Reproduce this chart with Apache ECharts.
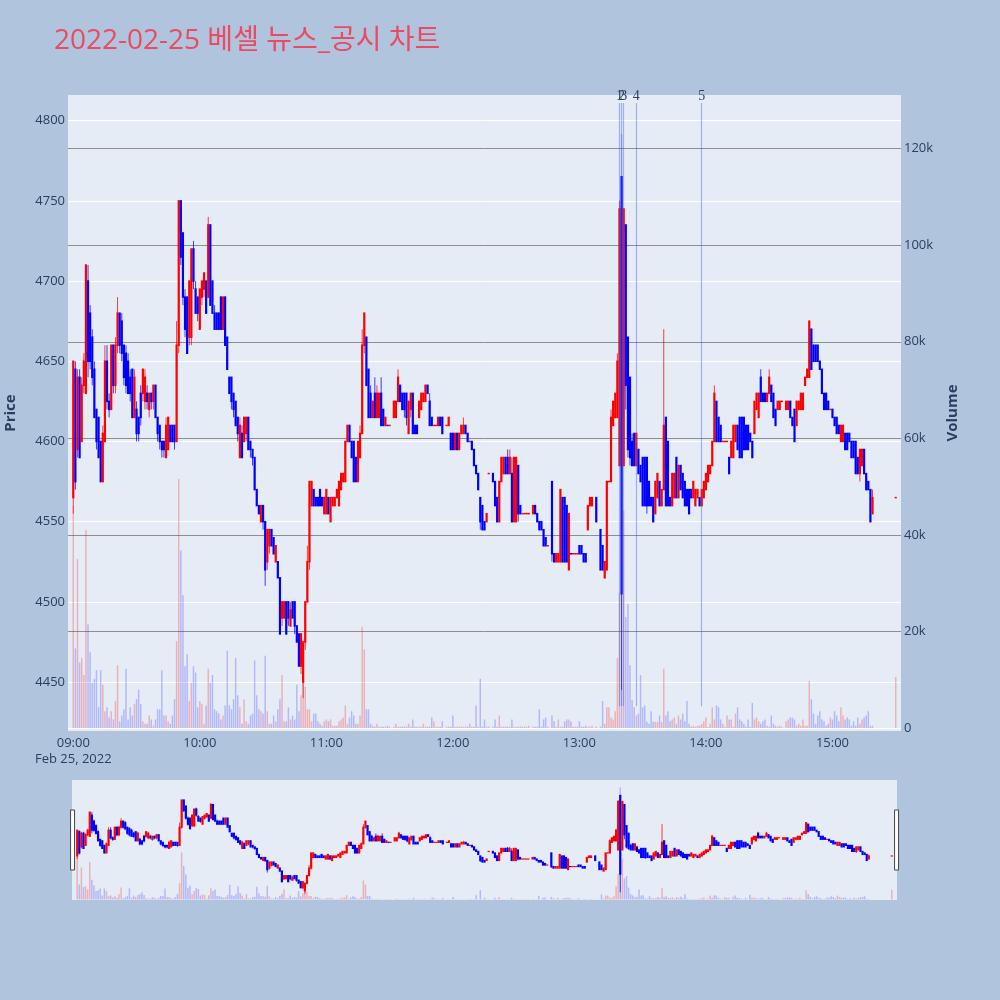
<!DOCTYPE html>
<html><head><meta charset="utf-8">
<script src="https://cdn.jsdelivr.net/npm/echarts@6/dist/echarts.min.js"></script>
<style>html,body{margin:0;padding:0;background:#B0C4DE;}#c{width:1000px;height:1000px;}</style>
</head><body><div id="c"></div>
<script>
// minute index 0 = 09:00 ... 390 = 15:30 (closing auction)
const sessionStartMin = 9 * 60;
const opens = [
4565,4645,4595,4640,4600,4635,4630,4700,4680,4665,
4645,4620,4615,4600,4575,4600,4650,4625,4620,4660,
4635,4660,4680,4675,4660,4655,4650,4640,4645,4615,
4620,4615,4630,4630,4625,4630,4620,4630,4625,4635,
4615,4610,4600,4600,4590,4595,4610,4610,4610,4600,
4660,4750,4730,4690,4690,4665,4665,4720,4695,4690,
4670,4690,4695,4700,4690,4735,4700,4680,4680,4680,
4690,4670,4690,4665,4640,4640,4630,4625,4615,4590,
4605,4600,4605,4615,4600,4595,4590,4570,4560,4550,
4560,4550,4525,4535,4545,4540,4525,4525,4515,4490,
4490,4500,4500,4485,4500,4500,4485,4480,4460,4450,
4475,4500,4525,4560,4570,4565,4565,4570,4565,4555,
4555,4565,4550,4560,4560,4565,4560,4570,4575,4575,
4600,4610,4600,4600,4590,4575,4590,4605,4660,4665,
4645,4630,4615,4630,4615,4615,4630,4620,4610,4610,
4610,null,4615,4615,4625,4635,4630,4630,4630,4605,
4620,4630,4610,4610,4615,4620,4625,4625,4635,4625,
4615,4610,4610,4610,4615,4615,null,4610,4610,4605,
4605,4595,4605,4595,4605,4605,4610,4605,4600,4600,
4595,4585,4580,4565,4560,4550,4550,4580,null,4580,
4575,4565,4550,4575,4580,4590,4590,4580,4580,4550,
4550,4585,4560,4555,4555,4555,4555,null,4555,4560,
4555,4550,4550,4545,4540,4535,null,4575,4530,4525,
4525,4525,4565,4565,4560,4520,4530,4530,4530,4530,
4535,4535,4530,4530,4545,4560,4560,null,4565,null,
4545,4535,4515,4520,4575,4575,4610,4615,4615,4585,
4765,4585,4735,4665,4640,4600,4605,4585,4595,4585,
4590,4590,4590,4575,4565,4565,4555,4565,4575,4560,
4570,4615,4600,4565,4560,4565,4590,4565,4585,4580,
4575,4570,4570,4570,4565,4560,4565,4565,4560,4565,
4570,4575,4580,4585,4600,4625,4615,4610,4600,4600,
4600,4590,4590,4590,4600,4610,4615,4615,4615,4610,
4610,4605,4600,4605,4620,4615,4640,4630,4630,4625,
4630,4635,4630,4620,4620,4620,4625,null,4620,4620,
4625,4615,4620,4610,4620,4620,4620,4635,4640,4640,
4670,4660,4660,4660,4650,4645,4630,4630,4625,4620,
4620,4615,4615,4610,4600,4600,4605,4605,4605,4600,
4600,4600,4590,4580,4585,4595,4580,4575,4570,4555,
null,null,null,null,null,null,null,null,null,null,
4565];
const closes = [
4650,4575,4640,4590,4635,4650,4710,4650,4650,4640,
4615,4600,4590,4575,4605,4650,4625,4620,4660,4635,
4660,4680,4660,4655,4640,4635,4630,4630,4615,4640,
4605,4605,4615,4645,4640,4625,4630,4625,4635,4615,
4605,4600,4595,4595,4610,4615,4600,4600,4600,4660,
4750,4715,4690,4670,4655,4700,4720,4700,4680,4680,
4695,4700,4705,4680,4735,4685,4680,4670,4670,4670,
4670,4690,4660,4645,4630,4625,4620,4610,4605,4610,
4590,4615,4615,4595,4595,4590,4570,4560,4555,4560,
4550,4520,4545,4545,4535,4530,4535,4515,4480,4500,
4500,4480,4490,4495,4490,4485,4475,4460,4480,4475,
4500,4525,4575,4575,4560,4560,4560,4560,4560,4565,
4570,4555,4565,4565,4565,4570,4575,4580,4580,4600,
4610,4600,4590,4575,4575,4600,4605,4660,4680,4635,
4615,4615,4625,4615,4630,4630,4610,4610,4615,4610,
4610,null,4625,4625,4640,4625,4620,4620,4615,4625,
4630,4605,4605,4605,4625,4630,4630,4635,4630,4610,
4610,4610,4610,4615,4610,4605,null,4610,4615,4595,
4595,4605,4595,4605,4610,4610,4605,4600,4600,4595,
4585,4580,4570,4550,4545,4545,4555,4580,null,4575,
4560,4550,4575,4590,4590,4580,4580,4590,4550,4590,
4590,4555,4555,4555,4555,4555,4555,null,4560,4555,
4550,4545,4545,4535,4535,4535,null,4530,4525,4530,
4530,4570,4525,4525,4525,4555,4530,4530,4530,4530,
4530,4530,4525,4525,4560,4565,4565,null,4550,null,
4520,4520,4525,4575,4575,4615,4625,4630,4650,4745,
4505,4745,4635,4595,4590,4585,4585,4605,4580,4575,
4560,4560,4560,4560,4560,4550,4575,4580,4560,4570,
4610,4560,4560,4560,4580,4580,4565,4585,4570,4565,
4560,4560,4555,4565,4575,4570,4570,4560,4570,4575,
4580,4585,4585,4600,4630,4600,4600,4600,4600,4600,
4600,4580,4600,4610,4610,4595,4590,4590,4595,4595,
4595,4600,4590,4625,4630,4630,4625,4625,4625,4630,
4640,4625,4615,4610,4625,4625,4625,null,4625,4625,
4615,4610,4600,4625,4625,4630,4630,4640,4645,4675,
4645,4650,4650,4650,4645,4630,4620,4620,4620,4620,
4615,4610,4605,4605,4610,4610,4595,4595,4600,4590,
4590,4580,4580,4595,4595,4580,4570,4570,4550,4565,
null,null,null,null,null,null,null,null,null,null,
4565];
const lows = [
4555,4570,4590,4590,4600,4630,4630,4640,4645,4635,
4615,4595,4590,4575,4575,4600,4620,4615,4620,4630,
4630,4655,4655,4650,4635,4630,4630,4625,4615,4615,
4600,4600,4610,4625,4620,4620,4615,4620,4620,4615,
4600,4595,4590,4590,4590,4595,4600,4600,4595,4600,
4655,4710,4685,4665,4655,4660,4660,4695,4680,4675,
4670,4685,4690,4680,4690,4685,4680,4670,4670,4670,
4670,4670,4660,4645,4630,4620,4615,4610,4600,4590,
4590,4600,4600,4595,4590,4585,4570,4560,4555,4550,
4545,4510,4520,4530,4535,4530,4525,4515,4480,4485,
4490,4480,4485,4485,4490,4480,4475,4460,4455,4440,
4470,4500,4520,4560,4560,4560,4560,4560,4560,4555,
4555,4555,4550,4560,4560,4565,4560,4570,4575,4575,
4600,4600,4590,4575,4575,4575,4590,4605,4655,4635,
4615,4615,4615,4615,4615,4615,4610,4610,4610,4610,
4610,null,4615,4615,4625,4625,4620,4615,4610,4605,
4615,4605,4605,4605,4615,4620,4625,4625,4630,4610,
4610,4610,4610,4610,4610,4605,null,4610,4610,4595,
4595,4595,4595,4595,4605,4605,4605,4600,4600,4595,
4585,4580,4570,4545,4545,4545,4550,4580,null,4575,
4560,4550,4550,4575,4580,4580,4580,4580,4550,4550,
4550,4550,4555,4555,4555,4555,4555,null,4555,4555,
4550,4545,4545,4535,4535,4535,null,4525,4525,4525,
4525,4525,4525,4525,4525,4520,4530,4530,4530,4530,
4530,4530,4525,4525,4545,4560,4560,null,4550,null,
4520,4520,4515,4520,4575,4575,4610,4615,4615,4585,
4445,4585,4620,4590,4585,4585,4585,4585,4580,4575,
4560,4560,4555,4560,4560,4550,4555,4565,4560,4560,
4570,4560,4560,4560,4560,4565,4565,4565,4570,4565,
4560,4560,4555,4565,4565,4560,4565,4560,4560,4565,
4570,4575,4580,4585,4600,4600,4600,4600,4600,4600,
4600,4580,4590,4590,4600,4595,4590,4590,4595,4595,
4595,4600,4590,4605,4620,4615,4625,4625,4625,4625,
4630,4625,4615,4610,4620,4620,4625,null,4620,4620,
4615,4610,4600,4610,4620,4620,4620,4635,4640,4640,
4645,4650,4650,4650,4645,4630,4620,4620,4620,4620,
4615,4610,4605,4605,4600,4600,4595,4595,4600,4590,
4590,4580,4580,4575,4585,4580,4570,4570,4550,4555,
null,null,null,null,null,null,null,null,null,null,
4565];
const highs = [
4650,4650,4645,4645,4640,4655,4710,4710,4685,4670,
4650,4620,4615,4600,4610,4660,4660,4630,4660,4660,
4665,4690,4680,4680,4660,4660,4655,4645,4645,4645,
4625,4615,4635,4645,4645,4635,4630,4630,4635,4635,
4615,4610,4600,4600,4615,4615,4610,4610,4610,4675,
4750,4750,4730,4695,4690,4700,4720,4725,4700,4690,
4695,4700,4705,4700,4740,4735,4700,4685,4680,4680,
4690,4690,4690,4665,4640,4640,4630,4625,4615,4615,
4610,4615,4615,4615,4600,4595,4590,4570,4560,4560,
4560,4550,4545,4545,4545,4540,4535,4525,4515,4500,
4500,4500,4500,4500,4500,4500,4485,4480,4480,4475,
4500,4535,4575,4575,4570,4565,4565,4570,4565,4565,
4570,4565,4565,4565,4565,4570,4575,4580,4580,4600,
4610,4610,4600,4600,4590,4600,4610,4670,4680,4665,
4645,4635,4625,4640,4635,4630,4640,4620,4615,4610,
4610,null,4625,4625,4645,4635,4630,4630,4630,4625,
4630,4630,4610,4610,4625,4630,4630,4635,4635,4630,
4615,4610,4610,4615,4615,4615,null,4610,4615,4605,
4605,4605,4605,4605,4610,4615,4610,4605,4600,4600,
4595,4585,4580,4565,4560,4550,4555,4580,null,4580,
4575,4565,4575,4590,4590,4590,4595,4595,4590,4590,
4590,4585,4560,4555,4555,4555,4555,null,4560,4560,
4555,4550,4550,4545,4540,4535,null,4575,4530,4530,
4530,4570,4565,4565,4560,4555,4530,4530,4530,4530,
4535,4535,4530,4530,4560,4565,4565,null,4565,null,
4545,4535,4525,4575,4575,4620,4625,4630,4655,4750,
4765,4745,4735,4665,4640,4605,4605,4605,4595,4585,
4590,4590,4590,4575,4565,4565,4575,4580,4575,4570,
4670,4615,4600,4565,4580,4580,4590,4585,4585,4580,
4575,4570,4570,4570,4575,4570,4570,4565,4570,4575,
4580,4585,4585,4600,4635,4625,4615,4610,4600,4600,
4600,4590,4600,4610,4610,4610,4615,4615,4615,4610,
4610,4605,4600,4625,4630,4630,4645,4630,4630,4630,
4645,4635,4630,4620,4625,4625,4625,null,4625,4625,
4625,4615,4620,4625,4625,4630,4630,4640,4645,4675,
4670,4660,4660,4660,4650,4645,4630,4630,4625,4620,
4620,4615,4615,4610,4610,4610,4605,4605,4605,4600,
4600,4600,4590,4595,4595,4595,4580,4575,4570,4570,
null,null,null,null,null,null,null,null,null,null,
4565];
const volumes = [
46000,16500,35000,13600,14500,11000,41000,21500,15700,9400,
10200,12000,4300,12000,9000,3500,4300,2200,3500,1800,
5600,13000,1400,2600,3900,12300,1800,4300,2600,5000,
6000,8000,5000,1400,900,900,2600,1800,500,1800,
3900,3900,12000,2600,2600,1400,900,2600,6000,18000,
51600,36800,27500,12800,15300,5600,9400,12800,11500,4300,
5600,5000,900,4700,12300,9400,11000,3900,3500,3000,
1800,2600,4700,16000,4700,3900,6000,14500,6800,4300,
900,6000,1400,900,2600,3000,14000,6800,3900,3500,
3000,15000,3500,900,900,2600,1400,3900,6000,11000,
1400,1400,4300,1800,2600,1800,9000,3500,6800,13000,
8500,3900,3900,1400,3000,3000,1400,900,500,1400,
1800,1400,1800,500,500,500,1400,1800,2200,4700,
900,2200,3500,2600,900,900,2600,21000,16300,3900,
3900,900,500,300,900,300,300,300,300,500,
300,null,300,900,300,300,300,300,300,900,
300,1800,300,300,300,300,900,300,300,300,
2200,1400,300,300,300,1400,null,300,300,300,
2600,300,300,300,300,300,300,300,900,300,
300,4700,300,10200,300,1800,300,300,null,300,
1800,300,2600,300,300,300,300,300,1800,300,
300,300,300,300,300,300,500,null,300,300,
300,3900,300,1800,2200,300,null,2600,1400,300,
1800,300,300,1400,1800,1800,1400,300,300,300,
1400,300,300,500,300,300,500,null,300,null,
300,5600,900,4300,4300,2200,1800,3500,14500,28000,
123000,45000,23000,25700,13000,5800,4300,2600,3000,11000,
4300,4700,1300,900,3500,1300,1300,1300,2600,1300,
12300,2600,3500,1400,1800,2200,900,2600,1800,3000,
1400,5600,900,300,500,300,500,500,900,1400,
2200,300,900,4300,1800,4700,4300,1800,900,300,
2600,1800,1800,300,3000,4300,1800,1400,900,300,
1800,300,5200,1800,2200,1400,900,1400,1800,500,
300,2600,900,500,300,500,300,null,1400,1800,
2200,2200,1800,500,900,500,1800,500,500,9800,
6000,3000,900,2600,3500,1800,1400,500,900,2200,
1800,3500,2600,1400,4300,2600,1800,2200,1800,500,
1400,500,2200,900,1800,2200,2600,3500,500,500,
null,null,null,null,null,null,null,null,null,null,
10600];

const newsTimes = ['13:19', '13:20', '13:21', '13:27', '13:58'];
const newsLabels = ['1', '2', '3', '4', '5'];
const hourTicks = ['09:00', '10:00', '11:00', '12:00', '13:00', '14:00', '15:00'];
const dateLabel = 'Feb 25, 2022';
const priceRange = [4419.5, 4816];
const volumeRange = [-600, 131100];
const newsSpan = [4811, 4435];
const titleText = '2022-02-25 베셀 뉴스_공시 차트';

function fmt(t) {
  const h = Math.floor(t / 60), m = t % 60;
  return String(h).padStart(2, '0') + ':' + String(m).padStart(2, '0');
}
const categories = [];
for (let t = sessionStartMin - 2; t <= sessionStartMin + 392; t++) categories.push(fmt(t));

const UP = '#FF0000', DOWN = '#0000FF';
const UP_V = 'rgba(255,0,0,0.25)', DOWN_V = 'rgba(0,0,255,0.22)';
const candleData = [], volData = [];
let prevClose = null;
categories.forEach((c, i) => {
  const k = i - 2;
  if (k < 0 || k >= opens.length || opens[k] == null) { volData.push('-'); return; }
  let up;
  if (closes[k] > opens[k]) up = 1;
  else if (closes[k] < opens[k]) up = 0;
  else up = (prevClose == null || prevClose <= closes[k]) ? 1 : 0;
  prevClose = closes[k];
  candleData.push([i, opens[k], closes[k], lows[k], highs[k], up]);
  volData.push(volumes[k] == null ? '-' : { value: volumes[k], itemStyle: { color: up ? UP_V : DOWN_V } });
});

function makeCandleRenderer(bodyW, minH) {
  return function (params, api) {
    const x = api.value(0);
    const o = api.coord([x, api.value(1)]);
    const c = api.coord([x, api.value(2)]);
    const l = api.coord([x, api.value(3)]);
    const h = api.coord([x, api.value(4)]);
    const col = api.value(5) ? UP : DOWN;
    const top = Math.min(o[1], c[1]);
    const hgt = Math.abs(o[1] - c[1]);
    return {
      type: 'group',
      children: [
        { type: 'line', shape: { x1: h[0], y1: h[1], x2: l[0], y2: l[1] }, style: { stroke: col, lineWidth: 1, opacity: 0.75 } },
        { type: 'rect', shape: { x: o[0] - bodyW / 2, y: top - minH / 2, width: bodyW, height: hgt + minH }, style: { fill: col } }
      ]
    };
  };
}

const FONT = '"Open Sans", "Noto Sans CJK KR", sans-serif';
const TXT = '#2a3f5f';

const option = {
  backgroundColor: '#B0C4DE',
  animation: false,
  textStyle: { fontFamily: FONT },
  title: {
    text: titleText, left: 49, top: 22,
    textStyle: { color: '#EA4B63', fontSize: 28, fontWeight: 'normal', fontFamily: FONT }
  },
  grid: [
    { left: 68, right: 99, top: 95, height: 636, show: true, backgroundColor: '#E5ECF6', borderWidth: 0, outerBoundsMode: 'none' },
    { left: 72, right: 103, top: 780, height: 120, show: true, backgroundColor: '#E5ECF6', borderWidth: 0, outerBoundsMode: 'none' }
  ],
  xAxis: [
    {
      type: 'category', gridIndex: 0, data: categories, boundaryGap: true,
      axisLine: { show: false }, axisTick: { show: false }, splitLine: { show: false },
      axisLabel: {
        interval: (idx, val) => hourTicks.indexOf(val) >= 0,
        formatter: v => v === hourTicks[0] ? v + '\n' + dateLabel : v,
        color: TXT, fontSize: 13, margin: 4, lineHeight: 16, fontFamily: FONT
      }
    },
    { type: 'category', gridIndex: 1, data: categories, boundaryGap: true, show: false }
  ],
  yAxis: [
    {
      type: 'value', gridIndex: 0, position: 'left', min: priceRange[0], max: priceRange[1], splitNumber: 8,
      name: 'Price', nameLocation: 'middle', nameGap: 50, nameRotate: 90,
      nameTextStyle: { color: TXT, fontSize: 15, fontWeight: 'bold', fontFamily: FONT },
      axisLine: { show: false }, axisTick: { show: false },
      axisLabel: { showMinLabel: false, showMaxLabel: false, color: TXT, fontSize: 13, margin: 3, fontFamily: FONT, formatter: v => String(v) },
      splitLine: { show: true, showMinLine: false, showMaxLine: false, lineStyle: { color: '#FFFFFF', width: 1 } }
    },
    {
      type: 'value', gridIndex: 0, position: 'right', min: volumeRange[0], max: volumeRange[1], splitNumber: 6,
      name: 'Volume', nameLocation: 'middle', nameGap: 44, nameRotate: 90,
      nameTextStyle: { color: TXT, fontSize: 15, fontWeight: 'bold', fontFamily: FONT },
      axisLine: { show: false }, axisTick: { show: false },
      axisLabel: { showMinLabel: false, showMaxLabel: false, color: TXT, fontSize: 13, margin: 3, fontFamily: FONT,
        formatter: v => v === 0 ? '0' : (v / 1000) + 'k' },
      splitLine: { show: true, showMinLine: false, showMaxLine: false,
        lineStyle: { color: ['#FFFFFF', '#8e8e8e', '#8e8e8e', '#8e8e8e', '#8e8e8e', '#8e8e8e', '#8e8e8e'], width: 1 } }
    },
    { type: 'value', gridIndex: 1, min: priceRange[0], max: priceRange[1], show: false, splitLine: { show: false } },
    { type: 'value', gridIndex: 1, min: volumeRange[0], max: volumeRange[1], show: false, splitLine: { show: false } }
  ],
  dataZoom: [{
    type: 'slider', xAxisIndex: [0], filterMode: 'none', start: 0, end: 100,
    left: 71, right: 103, top: 780, height: 120,
    backgroundColor: 'rgba(0,0,0,0)', borderColor: 'rgba(0,0,0,0)', fillerColor: 'rgba(0,0,0,0)',
    showDataShadow: false, showDetail: false, brushSelect: false, moveHandleSize: 0, zoomLock: true,
    handleIcon: 'path://M0,0 L4,0 L4,60 L0,60 Z', handleSize: '50%',
    handleStyle: { color: '#FFFFFF', borderColor: '#444444', borderWidth: 1 },
    emphasis: { handleStyle: { color: '#FFFFFF', borderColor: '#444444', borderWidth: 1 } },
    dataBackground: { lineStyle: { opacity: 0 }, areaStyle: { opacity: 0 } },
    selectedDataBackground: { lineStyle: { opacity: 0 }, areaStyle: { opacity: 0 } }
  }],
  series: [
    { type: 'bar', name: 'Volume', xAxisIndex: 0, yAxisIndex: 1, data: volData, barWidth: 1.5, z: 1, silent: true },
    {
      type: 'custom', name: 'Price', xAxisIndex: 0, yAxisIndex: 0, data: candleData, z: 3, silent: true,
      encode: { x: 0, y: [1, 2, 3, 4] },
      renderItem: makeCandleRenderer(2.2, 1.5),
      markLine: {
        silent: true, symbol: ['none', 'none'], animation: false,
        lineStyle: { color: 'rgba(60,90,220,0.42)', width: 1.2, type: 'solid' },
        label: { show: true, position: 'start', formatter: '{b}', color: TXT, fontSize: 14, fontFamily: '"Liberation Serif", serif', distance: 0 },
        emphasis: { disabled: true },
        data: newsTimes.map((t, i) => [{ coord: [t, newsSpan[0]], name: newsLabels[i] }, { coord: [t, newsSpan[1]] }])
      }
    },
    { type: 'bar', xAxisIndex: 1, yAxisIndex: 3, data: volData, barWidth: 1.5, z: 1, silent: true },
    {
      type: 'custom', xAxisIndex: 1, yAxisIndex: 2, data: candleData, z: 3, silent: true,
      encode: { x: 0, y: [1, 2, 3, 4] }, renderItem: makeCandleRenderer(2.2, 1.2)
    }
  ]
};
const lens = [opens.length, closes.length, lows.length, highs.length, volumes.length];
if (lens.some(l => l !== 391)) option.title.subtext = 'LEN ' + lens.join(',');
const chart = echarts.init(document.getElementById('c'), null, { renderer: 'canvas' });
chart.setOption(option);
</script></body></html>
